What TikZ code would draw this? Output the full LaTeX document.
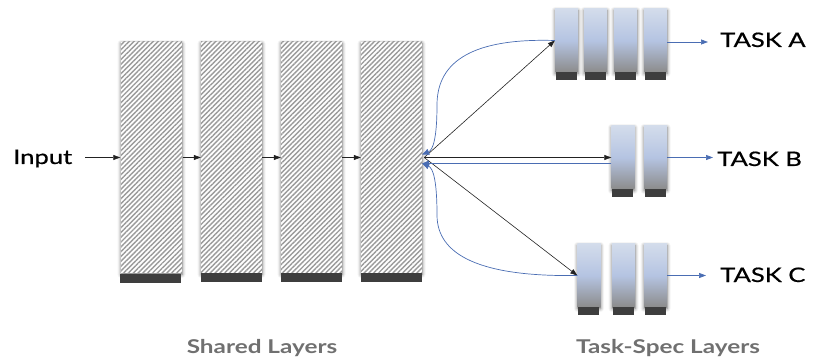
\documentclass[tikz,border=0pt]{standalone}
\usepackage{fontspec}
\setmainfont{Lato}[FakeStretch=1.28]
\newfontfamily\headfont{Lato}[FakeStretch=1.28,FakeBold=0.6]
\usetikzlibrary{arrows.meta,patterns.meta,shadows.blur}
\definecolor{hatch}{HTML}{9A9A9A}
\definecolor{flowblue}{HTML}{4A6DB3}
\definecolor{band}{HTML}{3E3E3E}
\definecolor{boxtop}{HTML}{D3DCEB}
\definecolor{boxmid}{HTML}{B5C4E2}
\definecolor{boxbot}{HTML}{8C8C8C}
\definecolor{labelgray}{HTML}{707070}
\definecolor{ink}{HTML}{222222}
\begin{document}
\begin{tikzpicture}[x=1pt,y=-1pt,
  softshadow/.style={blur shadow={shadow xshift=0pt,shadow yshift=-1.5pt,
      shadow blur radius=3.5pt,shadow opacity=60}},
  shared/.style={softshadow,preaction={fill=white},minimum width=61pt,
      minimum height=231pt,inner sep=0pt,
      pattern={Lines[angle=45,distance=3.4pt,line width=1.4pt]},pattern color=hatch},
  taskbox/.style={softshadow,minimum width=23pt,minimum height=63pt,inner sep=0pt,
      top color=boxtop,bottom color=boxbot,middle color=boxmid},
  title/.style={font=\headfont\fontsize{20}{24}\selectfont,text=black,inner sep=0pt,anchor=base west},
  caption/.style={font=\fontsize{19}{23}\selectfont\bfseries,text=labelgray,inner sep=0pt,anchor=base},
  fwd/.style={draw=ink,line width=0.6pt,-{Triangle[length=7pt,width=5pt]}},
  back/.style={draw=flowblue,line width=0.7pt,-{Triangle[length=7pt,width=6pt]}},
  headout/.style={draw=flowblue,line width=0.7pt,-{Triangle[length=7pt,width=5pt]}}]
\useasboundingbox (0,0) rectangle (813,363);

% shared trunk
\foreach \n/\x in {s1/151.5,s2/231.5,s3/311.5,s4/391.5}{
  \node[shared] (\n) at (\x,157.5) {};
  \fill[band] (\n.south west) rectangle ++(61,9);
}

% task-specific heads
\foreach \n/\x/\y in {ta1/566.5/40.5,ta2/595.5/40.5,ta3/625.5/40.5,ta4/655.5/40.5,
                      tb1/623/157.5,tb2/655.5/157.5,
                      tc1/589/275.5,tc2/623.5/275.5,tc3/655.5/275.5}{
  \node[taskbox] (\n) at (\x,\y) {};
  \fill[band] ([xshift=1pt]\n.south west) rectangle ++(21,8);
}

% labels
\node[title] (input) at (13,164) {Input};
\node[title] (taskA) at (720,47) {TASK A};
\node[title] (taskB) at (717,166) {TASK B};
\node[title] (taskC) at (720,282) {TASK C};
\node[caption] (sharedlbl) at (262,353) {Shared Layers};
\node[caption] (speclbl) at (668,353) {Task-Spec Layers};

% forward pass through the trunk
\draw[fwd] ([xshift=13pt]input.east |- s1.west) -- (s1.west);
\draw[fwd] (s1.east) -- (s2.west);
\draw[fwd] (s2.east) -- (s3.west);
\draw[fwd] (s3.east) -- (s4.west);

% trunk to heads
\draw[fwd] ([xshift=2pt]s4.east) -- (ta1.west);
\draw[fwd] ([xshift=2pt]s4.east) -- (tb1.west);
\draw[fwd] ([xshift=2pt]s4.east) -- (tc1.west);

% gradients flowing back
\draw[back] (ta1.west) .. controls (475,38) and (437,60) .. (437,105)
  .. controls (437,138) and (433,150) .. ([yshift=3pt]s4.east);
\draw[back] ([yshift=-6pt]tb1.west) -- ([yshift=-6pt]s4.east);
\draw[back] (tc1.west) .. controls (480,277) and (437,255) .. (437,215)
  .. controls (437,180) and (433,168) .. ([yshift=-6pt]s4.east);

% head outputs
\draw[headout] ([yshift=-1.5pt]ta4.east) -- ([xshift=-12pt,yshift=-1.5pt]taskA.west |- ta4.east);
\draw[headout] (tb2.east) -- ([xshift=-4pt]taskB.west |- tb2.east);
\draw[headout] (tc3.east) -- ([xshift=-14pt]taskC.west |- tc3.east);
\end{tikzpicture}
\end{document}
